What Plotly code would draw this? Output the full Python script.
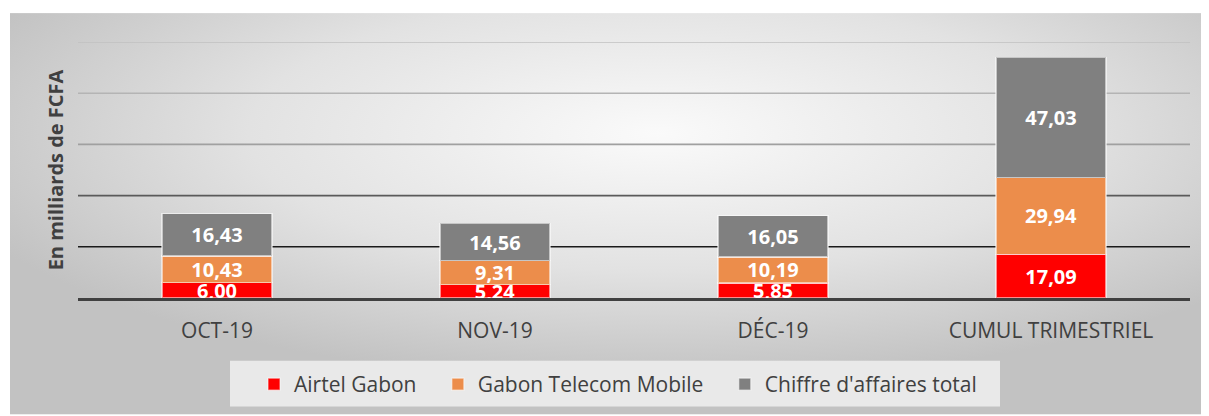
import base64
import plotly.graph_objects as go

categories = ["OCT-19", "NOV-19", "DÉC-19", "CUMUL TRIMESTRIEL"]
airtel = [6.00, 5.24, 5.85, 17.09]
gabon_telecom = [10.43, 9.31, 10.19, 29.94]
total = [16.43, 14.56, 16.05, 47.03]
grid_values = [20, 40, 60, 80, 100]
grid_colors = ["#1a1a1a", "#5a5a5a", "#a0a0a0", "#b4b4b4", "#c0c0c0"]

FONT = "Open Sans"
NB = "\u00a0\u00a0\u00a0"

# page body has an 8px margin; figure is sized/placed to compensate
OFF = 8
W, H = 1209 - OFF, 416 - OFF
L, R, T, B = 78 - OFF, 19, 42 - OFF, 117
pw, ph = W - L - R, H - T - B
X0, Y0 = 78, 299  # page pixel position of plot-area left / baseline


def px_x(x):
    return (x - X0) / pw


def px_y(y):
    return (Y0 - y) / ph


svg = """<svg xmlns='http://www.w3.org/2000/svg' width='1199' height='403' viewBox='0 0 1199 403' preserveAspectRatio='none'>
<defs><radialGradient id='g' cx='0.54' cy='0.3' r='0.62' gradientUnits='objectBoundingBox'>
<stop offset='0' stop-color='#fafafa'/><stop offset='0.55' stop-color='#e2e2e2'/><stop offset='1' stop-color='#c2c2c2'/>
</radialGradient></defs><rect width='1199' height='403' fill='url(#g)'/></svg>"""
src = "data:image/svg+xml;base64," + base64.b64encode(svg.encode()).decode()

fig = go.Figure()
series = [
    ("Airtel Gabon" + NB, airtel, "#FF0000"),
    ("Gabon Telecom Mobile" + NB, gabon_telecom, "#EC8D4B"),
    ("Chiffre d'affaires total", total, "#808080"),
]
for name, vals, color in series:
    fig.add_trace(go.Bar(
        x=categories, y=vals, name=name,
        marker=dict(color=color, line=dict(color="rgba(255,255,255,0.55)", width=1.2)),
        texttemplate="%{y:.2f}", textposition="inside", insidetextanchor="middle",
        constraintext="none",
        textfont=dict(family=FONT, size=20, color="white", weight="bold"),
        hoverinfo="skip",
    ))

shapes = []
for v, c in zip(grid_values, grid_colors):
    shapes.append(dict(type="line", xref="paper", x0=0, x1=1, yref="y", y0=v, y1=v,
                       line=dict(color=c, width=1.6), layer="below"))
# legend background box
shapes.append(dict(type="rect", xref="paper", yref="paper",
                   x0=px_x(230), x1=px_x(1000), y0=px_y(408), y1=px_y(362),
                   fillcolor="#e9e9e9", line=dict(width=0), layer="below"))

fig.update_layout(
    width=W, height=H,
    margin=dict(l=L, r=R, t=T, b=B),
    barmode="stack", bargap=0.604,
    separators=", ",
    paper_bgcolor="white", plot_bgcolor="rgba(0,0,0,0)",
    font=dict(family=FONT, color="#404040"),
    shapes=shapes,
    images=[dict(source=src, xref="paper", yref="paper",
                 x=px_x(10), y=px_y(13),
                 sizex=(1209 - 10) / pw, sizey=(416 - 13) / ph,
                 xanchor="left", yanchor="top", sizing="stretch", layer="below")],
    xaxis=dict(showgrid=False, showline=True, linecolor="#404040", linewidth=3,
               ticks="", tickfont=dict(size=21, color="#404040"), ticklabelstandoff=12,
               fixedrange=True),
    yaxis=dict(range=[0, 100], showgrid=False, zeroline=False, showticklabels=False,
               title=dict(text="En milliards de FCFA", font=dict(size=20, color="#404040", weight="bold"),
                          standoff=8)),
    legend=dict(orientation="h", x=px_x(254), xanchor="left",
                y=px_y(364), yanchor="top",
                bgcolor="rgba(0,0,0,0)", font=dict(size=21, color="#404040"),
                itemwidth=30, traceorder="normal"),
    showlegend=True,
)

fig.write_html("out.html")
